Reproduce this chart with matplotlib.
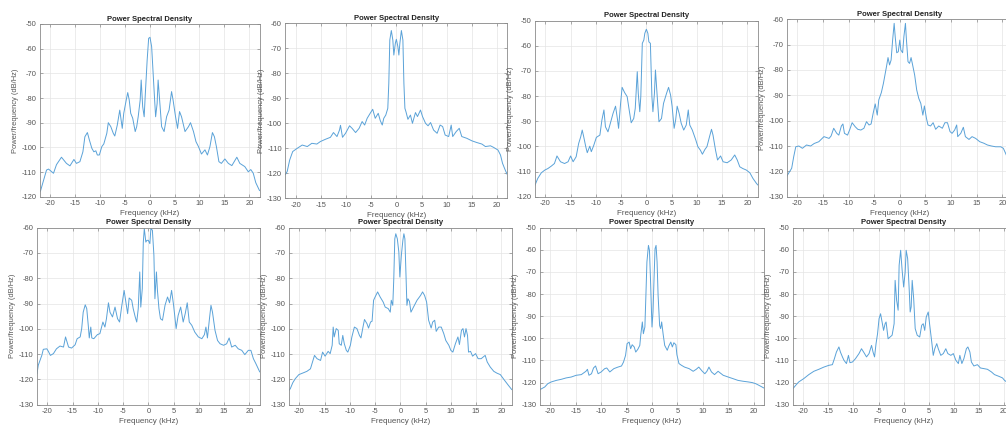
import matplotlib
matplotlib.use("Agg")
import matplotlib.pyplot as plt

plt.rcParams['font.family'] = ['Liberation Sans', 'DejaVu Sans']
plt.rcParams['axes.unicode_minus'] = False

# ---------------- data (frequency in kHz, PSD in dB/Hz) ----------------
f1 = [-22.05,-21.9,-20.7,-20.3,-19.3,-18.7,-17.7,-16.7,-16.0,-15.2,-14.7,-14.0,-13.4,-13.0,-12.5,-12.1,-11.6,-11.2,-10.8,-10.5,-10.1,
      -9.6,-9.2,-8.6,-8.3,-7.8,-7.3,-7.0,-6.5,-6.0,-5.5,-5.2,-4.7,-4.4,-4.1,-3.8,-3.4,-2.9,-2.6,-2.3,-1.9,-1.7,-1.4,-1.1,-0.9,-0.5,-0.2,
      0.07,0.4,0.7,1.0,1.2,1.5,1.7,2.1,2.4,2.9,3.4,3.9,4.4,4.7,5.2,5.6,6.0,6.4,7.1,7.8,8.2,8.8,9.3,9.8,10.4,11.1,11.6,12.1,12.6,13.0,
      13.4,13.9,14.4,15.1,15.8,16.5,17.5,18.1,19.1,19.8,20.3,20.8,21.3,22.05]
p1 = [-118,-117.6,-109.2,-108.8,-110.5,-107,-104,-106.5,-107.5,-104.9,-106.5,-105.8,-101.8,-95.7,-94,-97,-100.4,-101.8,-101.4,-103.1,-103.1,
      -99.7,-98.6,-94.3,-90,-91.6,-94.3,-95.4,-91,-84.9,-92.3,-86.2,-80.8,-77.8,-80.8,-86.2,-88.2,-93.6,-91.6,-87.6,-80.8,-72.7,-83.5,-87.6,-79.5,-64.6,-55.8,
      -55.4,-59.2,-70,-80.8,-87.6,-82.2,-72.7,-83.5,-91.6,-93.6,-87.6,-84.9,-77.4,-80.8,-87.6,-92.3,-85.5,-87.6,-93.6,-91.6,-90,-93.6,-97.7,-99.7,-102.7,-101,-103.1,-99.7,-94,-95.7,
      -99.7,-105.8,-106.5,-104.7,-106.5,-107.4,-104,-106.5,-107.8,-109.9,-109,-110.5,-114.3,-117.5]

f2 = [-22.05,-21.7,-21.2,-20.6,-19.7,-18.7,-17.7,-16.8,-15.8,-15.1,-14.1,-13.1,-12.5,-11.8,-11.3,-11.1,-10.7,-10.1,-9.3,-8.8,-8.1,-7.4,-6.8,-6.3,-5.8,
      -5.2,-4.7,-4.2,-3.6,-3.2,-2.8,-2.5,-2.1,-1.7,-1.5,-1.3,-1.0,-0.7,-0.5,-0.2,0.0,0.3,0.5,0.7,1.0,1.3,1.5,1.7,1.9,2.3,2.8,3.2,3.8,4.2,4.8,
      5.2,5.8,6.3,6.8,7.4,8.1,8.7,9.2,9.7,10.4,10.9,11.2,11.9,12.5,13.0,14.0,15.0,16.0,17.0,17.7,18.7,19.3,20.2,20.7,21.1,21.7,22.05]
p2 = [-120.5,-119.3,-114.7,-111.3,-110,-108.7,-109.3,-108,-108.3,-107.3,-106.4,-105.6,-103.7,-105.3,-102.7,-100.8,-105.6,-104,-101,-102,-103.7,-102,-99.3,-100.7,-98,
      -96,-94.4,-98,-96,-98.9,-100.7,-98,-96.7,-94,-84,-66.7,-62.9,-66.7,-72.7,-68,-66.4,-69.3,-72.7,-68,-62.9,-66.7,-84,-94,-95.3,-98.4,-96.7,-100,-95.7,-97.3,-94.7,
      -97.3,-100,-101,-99.7,-102.7,-104,-100.7,-101.3,-104.7,-105.3,-100.7,-105.3,-103.3,-102,-105.3,-106,-107,-107.7,-108.3,-109.3,-109,-109.6,-110.7,-112.7,-116,-119,-120.5]

f3 = [-22.05,-21.5,-20.8,-20.1,-19.5,-18.8,-18.2,-17.7,-17.0,-16.2,-15.5,-15.0,-14.5,-13.9,-13.4,-13.0,-12.7,-12.4,-12.0,-11.7,-11.2,-10.9,-10.4,-9.9,-9.2,
      -8.8,-8.4,-8.1,-7.6,-7.1,-6.6,-6.1,-5.7,-5.5,-5.1,-4.8,-4.3,-3.8,-3.4,-3.0,-2.5,-2.2,-1.8,-1.6,-1.3,-1.1,-0.8,-0.5,-0.3,0.0,0.3,0.5,0.8,1.1,1.3,
      1.6,1.8,2.2,2.5,3.0,3.4,4.0,4.4,4.8,5.1,5.5,5.8,6.1,6.5,6.9,7.4,7.9,8.3,8.6,9.1,9.8,10.2,10.7,11.1,11.6,12.0,12.5,12.9,13.2,13.7,
      14.1,14.7,15.2,16.0,16.8,17.5,18.0,18.5,19.1,19.8,20.5,21.1,21.8,22.05]
p3 = [-115.4,-112.7,-110.5,-109.4,-108.8,-107.8,-106.8,-103.8,-106.1,-106.8,-106.1,-103.8,-106.1,-104.1,-98.8,-96.2,-93.5,-96.2,-100.1,-102.5,-99.9,-102.1,-99.5,-96.4,-95.5,
      -89.5,-85.5,-92.2,-94.2,-90.6,-86.9,-84,-89.5,-92.8,-82.9,-76.5,-78.6,-80.2,-85.5,-90.6,-88.9,-84.9,-70.3,-78.9,-86.2,-80.2,-59,-57.7,-55,-53.4,-55,-58.4,-59,-80.2,-86.2,
      -78.9,-69.6,-81.6,-90.2,-88.9,-82.9,-78.9,-76.5,-79.6,-84,-92.8,-89.5,-84,-86.9,-90.8,-93.5,-91.5,-85.5,-91.5,-93.5,-97.5,-100.1,-101.5,-103.1,-101.2,-100.1,-96.2,-93.2,-95.5,-101.5,
      -105.4,-103.8,-106.1,-106.5,-105.4,-103.4,-105.4,-108.1,-108.8,-109.4,-110.5,-112.7,-114.7,-115.3]

f4 = [-22.05,-21.9,-21.1,-20.7,-20.3,-19.7,-19.0,-18.2,-17.4,-16.7,-15.8,-14.8,-13.8,-13.4,-12.9,-12.3,-11.9,-11.4,-11.1,-10.8,-10.2,-9.8,-9.3,-8.7,-8.2,
      -7.6,-7.0,-6.5,-6.0,-5.6,-5.2,-4.8,-4.4,-4.1,-3.6,-3.2,-2.9,-2.6,-2.3,-2.0,-1.7,-1.4,-1.1,-0.9,-0.6,-0.3,0.0,0.2,0.55,0.8,1.1,1.3,1.6,1.9,2.2,
      2.5,2.9,3.3,3.7,4.1,4.5,4.8,5.2,5.5,6.0,6.5,7.0,7.6,8.3,8.8,9.3,9.8,10.2,10.7,11.1,11.3,11.9,12.4,12.8,13.5,14.1,14.8,15.6,16.4,17.1,
      17.9,18.7,19.7,20.2,20.65,21.3,22.05]
p4 = [-122,-121.4,-118.8,-114.2,-110.3,-110,-110.9,-109.6,-110,-109,-108.3,-106.3,-107,-106,-103,-105,-105.7,-102.1,-101.3,-105,-105.7,-103.7,-100.8,-102.4,-103.4,
      -103.7,-103,-100.4,-101.7,-101.3,-97.1,-93.4,-97.8,-91.8,-88.9,-85.3,-82,-78.7,-75.1,-78,-76.1,-68.2,-61.6,-66.8,-73.2,-72.8,-68.2,-72.1,-73.2,-66.8,-61.6,-68.2,-76.7,-77.4,-75.1,
      -78,-82,-87.9,-91.2,-93.2,-97.8,-94.2,-99.1,-101.7,-102.1,-100.8,-103.4,-102.1,-103,-100.8,-100.8,-104.3,-105,-103.7,-101.7,-106.3,-105,-102.6,-106.3,-107.4,-106.3,-107,-108.3,-108.9,-109.6,
      -110,-110.3,-110.3,-110.9,-112.9,-116,-120]

f5 = [-22.05,-21.8,-21.1,-20.8,-20.1,-19.8,-19.4,-18.8,-18.2,-17.5,-16.8,-16.4,-15.8,-15.2,-14.5,-14.1,-13.5,-13.2,-12.9,-12.5,-12.2,-11.9,-11.7,-11.4,-11.2,
      -10.8,-10.1,-9.6,-9.0,-8.6,-8.3,-7.9,-7.6,-7.1,-6.6,-6.1,-5.7,-5.3,-4.8,-4.4,-4.1,-3.8,-3.3,-3.0,-2.6,-2.3,-2.0,-1.7,-1.5,-1.2,-1.0,-0.8,-0.5,-0.3,0.0,
      0.3,0.5,0.8,1.1,1.3,1.6,1.8,2.1,2.4,2.8,3.3,3.8,4.2,4.6,5.0,5.5,5.9,6.4,6.9,7.3,7.7,8.1,8.6,9.2,9.9,10.6,11.1,11.4,11.7,12.1,
      12.4,12.7,13.2,13.7,14.2,14.9,15.5,16.0,16.5,17.2,17.8,18.5,19.1,19.8,20.3,20.8,21.3,22.05]
p5 = [-117.7,-114.4,-110.5,-108.1,-107.9,-108.9,-110.5,-109.8,-107.9,-106.8,-107.2,-103.2,-107.2,-107.6,-106.3,-103.9,-103.2,-99.9,-93.4,-90.5,-92,-98.6,-103.6,-99.3,-103.6,
      -103.9,-102.3,-101.9,-97.3,-99.3,-96,-89.7,-93.4,-95.3,-91.4,-96,-97.3,-91.4,-84.8,-90.1,-94,-87.8,-88.7,-92,-95.3,-97.3,-92,-77.5,-91.4,-84.1,-65.7,-60.4,-65.7,-65,-65,
      -66.3,-60.4,-61,-70.9,-88.1,-77.5,-84.8,-92,-96,-96.6,-90.7,-87.4,-89.7,-84.8,-90.7,-99.9,-94.7,-91.4,-97.3,-94,-89.7,-97.3,-98.6,-101.3,-103.2,-103.9,-102.3,-99.3,-103.6,-96,
      -90.7,-93.4,-100.6,-104.6,-105.9,-106.5,-105.9,-103.6,-107.2,-106.5,-107.9,-108.5,-110.2,-108.5,-108.5,-111.8,-113.8,-117]

f6 = [-22.05,-21.8,-21.3,-20.8,-20.1,-19.1,-18.5,-17.8,-17.5,-17.0,-16.5,-15.8,-15.4,-14.9,-14.3,-13.9,-13.5,-13.3,-13.1,-12.7,-12.3,-12.1,-11.7,-11.4,-11.1,
      -10.7,-10.4,-9.9,-9.6,-9.1,-8.6,-8.1,-7.8,-7.4,-7.1,-6.6,-6.3,-5.9,-5.6,-5.3,-5.0,-4.5,-4.0,-3.4,-3.0,-2.4,-2.0,-1.8,-1.5,-1.3,-1.1,-0.9,-0.6,-0.3,-0.1,
      0.2,0.5,0.7,0.9,1.1,1.3,1.5,1.8,2.1,2.6,3.3,4.0,4.4,4.8,5.2,5.6,6.1,6.4,6.8,7.1,7.6,8.1,8.6,9.0,9.6,10.0,10.4,10.9,11.4,11.7,
      12.1,12.4,12.7,13.0,13.3,13.5,13.9,14.3,14.9,15.4,16.0,16.8,17.2,17.8,18.5,19.1,19.8,20.5,21.3,22.05]
p6 = [-124.3,-123.7,-121.3,-119.7,-118.1,-117.3,-116.8,-115.8,-113.8,-110.5,-111.8,-112.5,-109.2,-110.8,-108.9,-109.8,-106.5,-99.3,-103.2,-99.9,-100.6,-105.9,-106.5,-102.6,-105.9,
      -108.5,-109.2,-106.5,-103.2,-99.3,-99.9,-102.6,-103.6,-99.3,-96.3,-98,-99.7,-97.3,-97,-88.7,-87.4,-85.4,-87.4,-89.4,-91.4,-92,-93.4,-88.7,-90.7,-80.2,-64.4,-62.4,-64.4,-69.6,-79.5,
      -70.9,-65,-62.4,-64.4,-77.5,-90.7,-88.1,-89.1,-93.4,-91.4,-88.7,-86.8,-85.4,-86.8,-89.4,-96.6,-99.7,-97.3,-96.6,-101,-99.3,-99.3,-101.9,-104.6,-106.5,-108.5,-109.2,-105.9,-103.2,-106.2,
      -100.6,-99.9,-103.2,-99.9,-102.6,-109.2,-108.9,-110.8,-109.8,-111.8,-111.8,-110.5,-113.1,-115.1,-116.8,-117.5,-118.1,-120,-122.1,-124]

f7 = [-22.05,-21.9,-21.1,-20.5,-19.8,-18.8,-17.8,-16.9,-15.9,-14.9,-13.9,-13.0,-12.7,-12.4,-11.9,-11.5,-11.1,-10.6,-10.0,-9.3,-8.9,-8.3,-7.5,-6.7,-6.0,
      -5.6,-5.2,-4.9,-4.5,-4.2,-3.9,-3.5,-3.2,-2.8,-2.4,-2.2,-1.9,-1.7,-1.4,-1.2,-1.0,-0.7,-0.5,-0.3,-0.1,0.0,0.2,0.4,0.6,0.8,1.0,1.2,1.5,1.7,1.9,
      2.2,2.5,3.0,3.3,3.7,4.0,4.3,4.7,4.9,5.3,5.8,6.4,7.3,8.1,8.7,9.2,9.9,10.4,10.8,11.2,11.7,12.3,13.0,14.0,15.0,15.9,16.9,17.9,18.9,19.7,
      20.4,21.0,22.05]
p7 = [-123.3,-123,-122,-120.5,-119.7,-119,-118.5,-117.9,-117.5,-116.7,-116.4,-114.9,-114,-116.7,-116,-113.4,-112.5,-116,-115.2,-113.7,-113.4,-115.2,-113.7,-113,-112.5,
      -110.7,-107.7,-102.4,-101.7,-104.7,-102.9,-103.9,-106.2,-105,-103.2,-98.3,-92.6,-97.9,-94.9,-80.6,-65.5,-58,-60.2,-73,-88,-94.9,-88,-73,-59.5,-58,-65.5,-80.6,-94.2,-95.6,-92.6,
      -98.3,-103.2,-105.4,-103.5,-101.7,-103.9,-102,-102.9,-107.4,-111.4,-112.2,-113,-113.7,-114.9,-114,-113,-114.9,-116,-114.9,-113,-115.2,-116.4,-114.9,-116.7,-117.5,-118.2,-119,-119.4,-119.7,-120,
      -120.5,-121.2,-122.5]

f8 = [-22.05,-21.5,-20.9,-19.9,-18.9,-17.9,-16.9,-15.9,-14.9,-14.2,-13.8,-13.4,-12.9,-12.6,-12.2,-11.9,-11.4,-11.0,-10.7,-10.2,-9.6,-8.9,-8.4,-7.9,-7.4,
      -6.9,-6.4,-6.1,-5.8,-5.5,-5.2,-4.9,-4.6,-4.3,-4.0,-3.7,-3.5,-3.1,-2.7,-2.3,-1.9,-1.7,-1.4,-1.1,-0.9,-0.6,-0.3,0.0,0.3,0.5,0.8,1.1,1.3,1.5,1.7,
      2.0,2.3,2.7,3.2,3.6,3.9,4.2,4.5,4.9,5.2,5.6,5.9,6.2,6.6,6.9,7.4,7.9,8.4,8.8,9.4,9.9,10.4,10.9,11.2,11.6,12.0,12.5,12.8,13.2,13.5,
      14.0,14.7,15.3,16.0,16.7,17.5,18.1,19.0,19.7,20.1,21.0,22.05]
p8 = [-122.7,-121.2,-119.7,-118.2,-116.4,-114.9,-114,-113,-112.2,-111.9,-109.2,-106.2,-103.9,-106.2,-108.4,-109.9,-111.4,-107.7,-111,-110.7,-109.2,-106.9,-104.7,-106.5,-108.4,
      -106.9,-103.2,-106.2,-108.4,-102.4,-97.9,-91.1,-88.9,-92.6,-96.4,-93.4,-92.6,-100.2,-99.4,-98.6,-93.4,-73.8,-82.8,-87.3,-67,-60.2,-69.3,-76.8,-70.1,-60.2,-64,-77.6,-88.1,-85.8,-73.8,
      -82.1,-95.6,-98.6,-99.4,-94.1,-93.4,-96.4,-90.4,-88.1,-94.1,-101.7,-107.7,-104.7,-102.4,-104.7,-107.7,-106.9,-104.7,-106.9,-107.7,-106.9,-109.9,-111.4,-107.7,-111.4,-109.2,-104.7,-103.9,-106.2,-110.7,
      -112.5,-111.9,-113.4,-113.7,-114,-115.2,-116.4,-117.2,-117.9,-119,-120.5,-122]

freqs = [f1, f2, f3, f4, f5, f6, f7, f8]
psds = [p1, p2, p3, p4, p5, p6, p7, p8]
ylims = [(-120, -50), (-130, -60), (-120, -50), (-130, -60),
         (-130, -60), (-130, -60), (-130, -50), (-130, -50)]
xticks = [-20, -15, -10, -5, 0, 5, 10, 15, 20]
title_text = "Power Spectral Density"
xlabel_text = "Frequency (kHz)"
ylabel_text = "Power/frequency (dB/Hz)"

# ---------------- layout (pixel boxes: left, right, top, bottom) ----------------
W, H = 1006, 425
boxes = [(39.8, 259.5, 24.0, 196.7), (285.4, 507.3, 23.3, 198.3), (535.0, 757.7, 20.7, 196.7), (786.8, 1012.8, 19.3, 196.7),
         (37.0, 259.7, 227.7, 404.7), (289.0, 511.7, 227.7, 404.7), (539.9, 764.1, 227.7, 404.7), (793.0, 1014.3, 227.7, 404.7)]

fig = plt.figure(figsize=(W / 100, H / 100), dpi=100)
fig.patch.set_facecolor('white')

for i in range(8):
    L, R, T, B = boxes[i]
    ax = fig.add_axes([L / W, 1 - B / H, (R - L) / W, (B - T) / H])
    ax.plot(freqs[i], psds[i], color='#5aa2d8', lw=0.7)
    ax.set_xlim(-22.05, 22.05)
    ax.set_ylim(*ylims[i])
    ax.set_xticks(xticks)
    ax.set_yticks(range(ylims[i][0], ylims[i][1] + 1, 10))
    ax.grid(True, color='#e4e4e4', lw=0.5)
    ax.set_axisbelow(True)
    for s in ax.spines.values():
        s.set_color('#8a8a8a')
        s.set_linewidth(0.6)
    ax.tick_params(direction='in', length=2.5, width=0.5, color='#8a8a8a',
                   labelsize=5.4, labelcolor='#555555', pad=2.5,
                   top=True, right=True)
    ax.set_title(title_text, fontsize=5.5, fontweight='bold', color='#222222', pad=2.5)
    ax.set_xlabel(xlabel_text, fontsize=5.8, color='#555555', labelpad=2.0)
    ax.set_ylabel(ylabel_text, fontsize=5.4, color='#555555', labelpad=1.5)

fig.savefig('out.png', dpi=100)
